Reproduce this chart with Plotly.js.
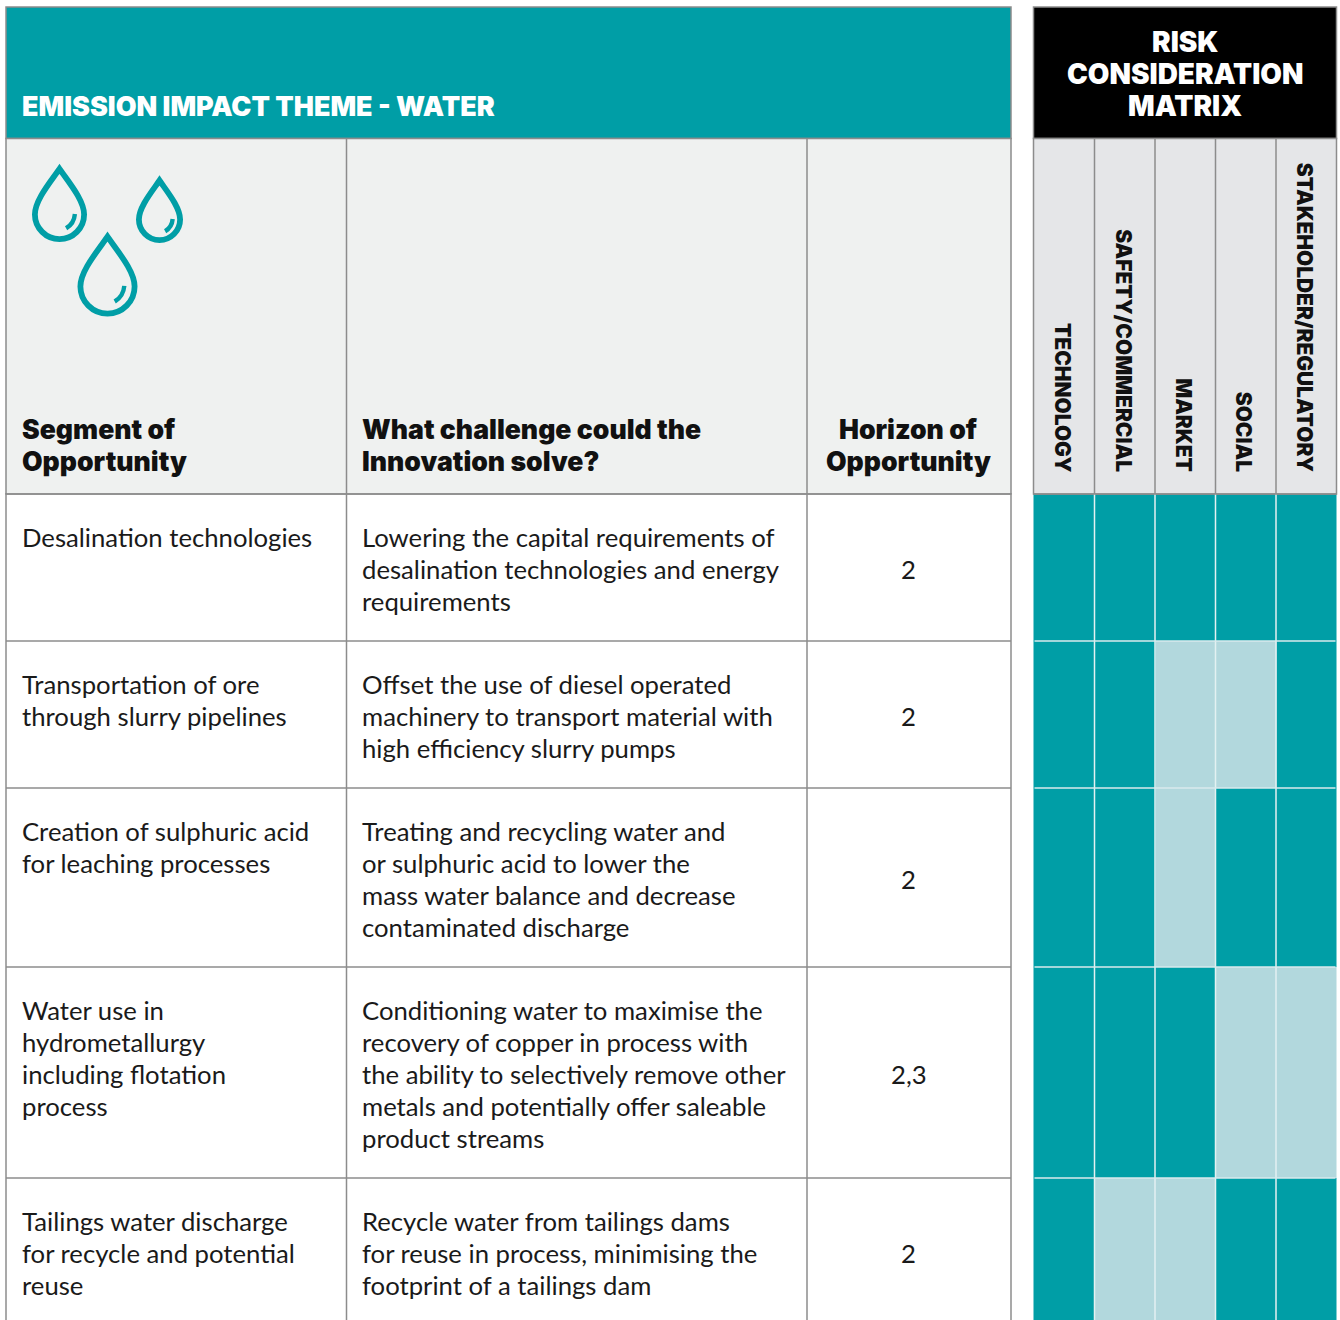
<!DOCTYPE html>
<html><head><meta charset="utf-8">
<script src="https://cdn.plot.ly/plotly-3.0.1.min.js"></script>
<style>html,body{margin:0;padding:0;background:#fff}#c{width:1340px;height:1320px}</style>
</head><body><div id="c"></div>
<script>
// ---- content ----
const title = "EMISSION IMPACT THEME - WATER";
const matrixTitle = ["RISK","CONSIDERATION","MATRIX"];
const headSegment = ["Segment of","Opportunity"];
const headChallenge = ["What challenge could the","Innovation solve?"];
const headHorizon = ["Horizon of","Opportunity"];
const segments = [
 ["Desalination technologies"],
 ["Transportation of ore","through slurry pipelines"],
 ["Creation of sulphuric acid","for leaching processes"],
 ["Water use in","hydrometallurgy","including flotation","process"],
 ["Tailings water discharge","for recycle and potential","reuse"]];
const challenges = [
 ["Lowering the capital requirements of","desalination technologies and energy","requirements"],
 ["Offset the use of diesel operated","machinery to transport material with","high efficiency slurry pumps"],
 ["Treating and recycling water and","or sulphuric acid to lower the","mass water balance and decrease","contaminated discharge"],
 ["Conditioning water to maximise the","recovery of copper in process with","the ability to selectively remove other","metals and potentially offer saleable","product streams"],
 ["Recycle water from tailings dams","for reuse in process, minimising the","footprint of a tailings dam"]];
const horizons = ["2","2","2","2,3","2"];
const riskCategories = ["TECHNOLOGY","SAFETY/COMMERCIAL","MARKET","SOCIAL","STAKEHOLDER/REGULATORY"];
// 1 = strong (teal), 0 = weak (pale)
const riskMatrix = [
 [1,1,1,1,1],
 [1,1,0,0,1],
 [1,1,0,1,1],
 [1,1,1,0,0],
 [1,0,0,1,1]];
// ---- layout grid ----
const tableX = [6,346.5,807,1011];
const rowY = [494,641,788,967,1178,1320];
const headTop = 7, headMid = 138.5;
const matX = [1033.5,1094.5,1155,1215.5,1276,1336.5];
const TEAL="#009ea6", PALE="#b2d8dd", GRID="#8c8c8c", HEAD="#eff1f0", MHEAD="#e5e6e8";
const FONT="Lato", HFONT="Inter", LH=32;
const SZ=25.7, HSZ=26.6;

const shapes=[], ann=[];
const rect=(x0,y0,x1,y1,fill,lw,lc)=>shapes.push({type:"rect",xref:"x",yref:"y",x0,y0,x1,y1,fillcolor:fill||"rgba(0,0,0,0)",line:{width:lw||0,color:lc||GRID},layer:"above"});
const seg=(x0,y0,x1,y1,c,w)=>shapes.push({type:"line",xref:"x",yref:"y",x0,y0,x1,y1,line:{color:c,width:w},layer:"above"});
const txt=(t,x,y,o={})=>ann.push(Object.assign({text:t,x,y,xref:"x",yref:"y",showarrow:false,xanchor:"left",yanchor:"middle",align:"left",
  font:{family:FONT,size:SZ,color:"#1a1a1a"},borderpad:0},o));

// table frame
rect(tableX[0],headTop,tableX[3],headMid,TEAL,1.5,GRID);
rect(tableX[0],headMid,tableX[3],rowY[0],HEAD,1.5,GRID);
rect(matX[0],headTop,matX[5],headMid,"#000",1.5,GRID);
rect(matX[0],headMid,matX[5],rowY[0],MHEAD,1.5,GRID);
rowY.slice(0,-1).forEach(y=>seg(tableX[0],y,tableX[3],y,GRID,1.5));
[0,1,2,3].forEach(i=>seg(tableX[i],i==1||i==2?headMid:rowY[0]-1,tableX[i],1320,GRID,1.5));
matX.slice(1,-1).forEach(x=>{seg(x,headMid,x,rowY[0],GRID,1.5);seg(x,rowY[0],x,1320,"#e3f1f2",1.5);});
rowY.slice(1,-1).forEach(y=>seg(matX[0]+1,y,matX[5]-1,y,"#d8eaec",1.5));
seg(matX[0],rowY[0],matX[5],rowY[0],GRID,1.5);

// drops
const drop=(cx,cy,r)=>{
  const k=1-2.9/r;
  const P=(a,b)=>(cx+a*r).toFixed(2)+","+(cy+b*r).toFixed(2);
  shapes.push({type:"path",xref:"x",yref:"y",layer:"above",line:{color:TEAL,width:5.8},
    path:`M${P(0,-1.66)} C${P(-.33,-1.18)} ${P(-k,-.52)} ${P(-k,0)} C${P(-k,.55*k)} ${P(-.55*k,k)} ${P(0,k)} C${P(.55*k,k)} ${P(k,.55*k)} ${P(k,0)} C${P(k,-.52)} ${P(.33,-1.18)} ${P(0,-1.66)} Z`});
  shapes.push({type:"path",xref:"x",yref:"y",layer:"above",line:{color:TEAL,width:4.4},
    path:`M${P(.56,-.02)} C${P(.54,.22)} ${P(.43,.39)} ${P(.24,.5)}`});
};
drop(59.5,214.5,27.5); drop(159.5,219.5,23.5); drop(107.5,286.5,30);

// text
const bold={family:HFONT,size:HSZ,color:"#111",weight:900};
const whiteBold=(s)=>({family:HFONT,size:s,color:"#fff",weight:900});
const TX=20.5, CX=360.5, HX=908.5;
txt(title,TX,106,{font:whiteBold(26.9)});
matrixTitle.forEach((t,i)=>txt(t,1185,42+i*LH,{xanchor:"center",align:"center",font:whiteBold(27.9)}));
headSegment.forEach((t,i)=>txt(t,TX,429+i*LH,{font:bold}));
headChallenge.forEach((t,i)=>txt(t,CX,429+i*LH,{font:bold}));
headHorizon.forEach((t,i)=>txt(t,HX,429+i*LH,{xanchor:"center",align:"center",font:bold}));
segments.forEach((ls,r)=>ls.forEach((t,i)=>txt(t,TX,rowY[r]+43+i*LH)));
challenges.forEach((ls,r)=>ls.forEach((t,i)=>txt(t,CX,rowY[r]+43+i*LH)));
const horizonY=[569,716,878.5,1073.5,1253];
horizons.forEach((t,r)=>txt(t,HX,horizonY[r],{xanchor:"center",align:"center"}));
riskCategories.forEach((t,i)=>txt(t,(matX[i]+matX[i+1])/2-1.5,473,{textangle:90,xanchor:"center",yanchor:"bottom",align:"center",
   font:{family:HFONT,size:20.9,color:"#111",weight:900}}));

const trace={type:"heatmap",x:matX,y:rowY,z:riskMatrix,zmin:0,zmax:1,showscale:false,hoverinfo:"skip",
  colorscale:[[0,PALE],[1,TEAL]]};
Plotly.newPlot("c",[trace],{
  width:1340,height:1320,margin:{l:0,r:0,t:0,b:0,pad:0},paper_bgcolor:"#fff",plot_bgcolor:"#fff",
  xaxis:{range:[0,1340],visible:false,fixedrange:true},
  yaxis:{range:[1320,0],visible:false,fixedrange:true},
  shapes,annotations:ann,showlegend:false
},{displayModeBar:false,staticPlot:true});
</script></body></html>
